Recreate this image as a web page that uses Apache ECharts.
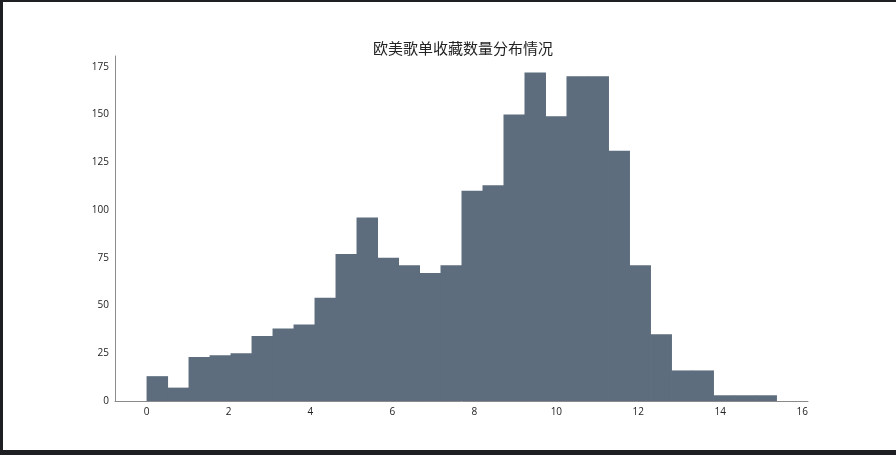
<!DOCTYPE html>
<html>
<head>
<meta charset="utf-8">
<script src="https://cdn.jsdelivr.net/npm/echarts@6/dist/echarts.min.js"></script>
<style>
  html, body { margin: 0; padding: 0; background: #1e1f22; width: 896px; height: 455px; overflow: hidden; }
  #chart { position: absolute; left: 3px; top: 2px; width: 893px; height: 448px; background: #fff; }
</style>
</head>
<body>
<div id="chart"></div>
<script>
// 直方图数据
const chartTitle = '欧美歌单收藏数量分布情况';
const binStart = 0;
const binEnd = 15.37;
const counts = [13, 7, 23, 24, 25, 34, 38, 40, 54, 77,
                96, 75, 71, 67, 71, 110, 113, 150, 172, 149,
                170, 170, 131, 71, 35, 16, 16, 3, 3, 3];
const xTicks = [0, 2, 4, 6, 8, 10, 12, 14, 16];
const yTicks = [0, 25, 50, 75, 100, 125, 150, 175];

// 每个区间: [左边界, 右边界, 数量]
const binWidth = (binEnd - binStart) / counts.length;
const bins = counts.map((c, i) => [binStart + i * binWidth, binStart + (i + 1) * binWidth, c]);

const chart = echarts.init(document.getElementById('chart'));

const labelStyle = { color: '#222', fontSize: 10, fontFamily: 'Open Sans' };
const lineStyle = { color: '#8a8a8a', width: 1 };

const option = {
  animation: false,
  title: {
    text: chartTitle,
    left: 455,
    top: 34,
    textAlign: 'center',
    textStyle: { fontSize: 15, fontWeight: 'normal', color: '#222', fontFamily: 'Noto Sans CJK SC' }
  },
  grid: { left: 112, right: 88, top: 54, bottom: 49 },
  xAxis: {
    type: 'value',
    min: -0.77,
    max: 16.14,
    axisLine: { show: true, onZero: false, lineStyle },
    axisTick: { show: false },
    splitLine: { show: false },
    axisLabel: { ...labelStyle, margin: 6, customValues: xTicks }
  },
  yAxis: {
    type: 'value',
    min: 0,
    max: 180.6,
    axisLine: { show: true, onZero: false, lineStyle },
    axisTick: { show: false },
    splitLine: { show: false },
    axisLabel: { ...labelStyle, margin: 6, customValues: yTicks }
  },
  series: [
    {
      type: 'custom',
      data: bins,
      encode: { x: [0, 1], y: 2 },
      renderItem: (params, api) => {
        const topLeft = api.coord([api.value(0), api.value(2)]);
        const bottomRight = api.coord([api.value(1), 0]);
        return {
          type: 'rect',
          shape: {
            x: topLeft[0],
            y: topLeft[1],
            width: bottomRight[0] - topLeft[0] + 0.5,
            height: bottomRight[1] - topLeft[1]
          },
          style: { fill: '#5d6d7e' }
        };
      }
    }
  ]
};

chart.setOption(option);
</script>
</body>
</html>
